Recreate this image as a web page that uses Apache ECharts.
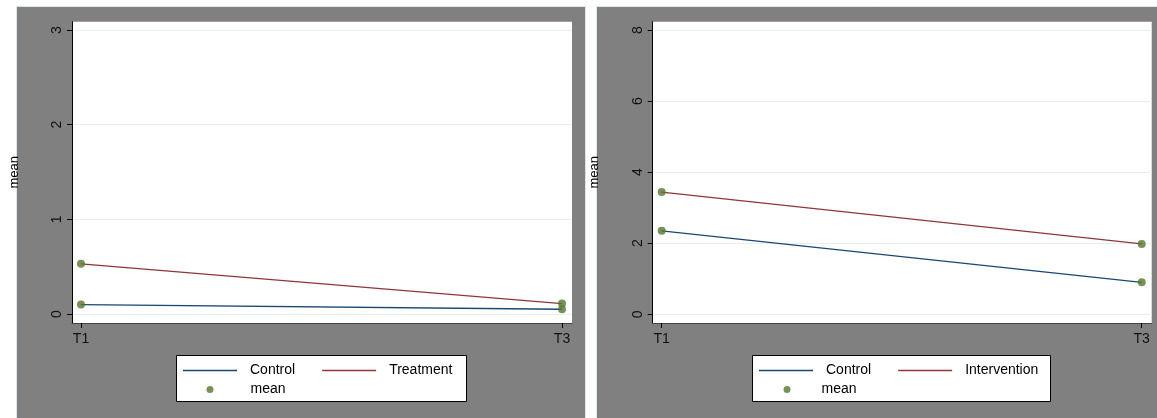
<!DOCTYPE html>
<html><head><meta charset="utf-8">
<script src="https://cdn.jsdelivr.net/npm/echarts@6/dist/echarts.min.js"></script>
<style>html,body{margin:0;padding:0;background:#fff}#c{width:1157px;height:418px}</style>
</head><body><div id="c"></div>
<script>
const categories = ['T1', 'T3'];
const leftControl = [0.10, 0.05];
const leftTreatment = [0.53, 0.11];
const rightControl = [2.35, 0.90];
const rightIntervention = [3.44, 1.98];
const leftYTicks = [0, 1, 2, 3];
const rightYTicks = [0, 2, 4, 6, 8];
const xTickIdx = [0, 1];

const FONT = 'Liberation Sans, Arial, sans-serif';
const NAVY = '#1a476f', MAROON = '#90353b', GREEN = '#55752f';
const LINE_ICON = 'path://M0 0H54V1.4H0Z';

function pts(arr) { return arr.map((v, i) => [i, v]); }
function xAxis(gi) {
  return {
    type: 'value', gridIndex: gi, min: -0.0187, max: 1.0208,
    axisLine: { show: true, onZero: false, lineStyle: { color: '#444', width: 1 } },
    axisTick: { show: true, length: 5, customValues: xTickIdx, lineStyle: { color: '#000' } },
    axisLabel: { customValues: xTickIdx, formatter: v => categories[Math.round(v)], color: '#111', fontSize: 14, fontFamily: FONT, margin: 9 },
    splitLine: { show: false }
  };
}
function yAxis(gi, min, max, ticks, gap) {
  return {
    type: 'value', gridIndex: gi, min: min, max: max,
    name: 'mean', nameLocation: 'middle', nameRotate: 90, nameGap: gap,
    nameTextStyle: { color: '#000', fontSize: 13, fontFamily: FONT },
    axisLine: { show: true, onZero: false, lineStyle: { color: '#000' } },
    axisTick: { show: true, length: 5, customValues: ticks, lineStyle: { color: '#000' } },
    axisLabel: { customValues: ticks, rotate: 90, color: '#111', fontSize: 14, fontFamily: FONT, margin: 8 },
    splitLine: { show: true, lineStyle: { color: '#e8f0f2', width: 1 } }
  };
}
function lineSeries(name, gi, arr, color) {
  return { type: 'line', name: name, xAxisIndex: gi, yAxisIndex: gi, data: pts(arr), symbol: 'none',
    lineStyle: { color: color, width: 1.3 }, itemStyle: { color: color }, z: 3 };
}
function meanSeries(gi, a, b) {
  return { type: 'scatter', name: 'mean', xAxisIndex: gi, yAxisIndex: gi, data: pts(a).concat(pts(b)),
    symbolSize: 8, itemStyle: { color: GREEN }, z: 5 };
}
const legendText = (pad) => ({ fontSize: 14, fontFamily: FONT, color: '#000', padding: [0, 0, 0, pad] });

const chart = echarts.init(document.getElementById('c'));
chart.setOption({
  animation: false,
  backgroundColor: '#fff',
  graphic: [
    { type: 'rect', z: -10, silent: true, shape: { x: 16.5, y: 6.5, width: 569, height: 420 }, style: { fill: '#808080', stroke: '#dde6ea', lineWidth: 1 } },
    { type: 'rect', z: -10, silent: true, shape: { x: 596.5, y: 6.5, width: 570, height: 420 }, style: { fill: '#808080', stroke: '#dde6ea', lineWidth: 1 } },
    { type: 'rect', z: 1, silent: true, shape: { x: 176.5, y: 355.5, width: 290, height: 46 }, style: { fill: '#fff', stroke: '#000', lineWidth: 1 } },
    { type: 'rect', z: 1, silent: true, shape: { x: 752.5, y: 355.5, width: 298, height: 46 }, style: { fill: '#fff', stroke: '#000', lineWidth: 1 } }
  ],
  grid: [
    { left: 72, top: 21.7, width: 500, height: 301.3, show: true, backgroundColor: '#fff', borderWidth: 0 },
    { left: 652.7, top: 21.7, width: 499, height: 301.3, show: true, backgroundColor: '#fff', borderWidth: 0 }
  ],
  xAxis: [xAxis(0), xAxis(1)],
  yAxis: [yAxis(0, -0.095, 3.088, leftYTicks, 51), yAxis(1, -0.245, 8.234, rightYTicks, 52)],
  legend: [
    { data: ['Control', 'Treatment'], icon: LINE_ICON, left: 183, top: 363.5, itemWidth: 54, itemHeight: 14, itemGap: 27, padding: 0, selectedMode: false, textStyle: legendText(8) },
    { data: ['mean'], left: 206.5, top: 382.5, itemWidth: 7, itemHeight: 7, icon: 'circle', padding: 0, selectedMode: false, textStyle: legendText(32) },
    { data: ['Control', 'Intervention'], icon: LINE_ICON, left: 759, top: 363.5, itemWidth: 54, itemHeight: 14, itemGap: 27, padding: 0, selectedMode: false, textStyle: legendText(8) },
    { data: ['mean'], left: 783.5, top: 382.5, itemWidth: 7, itemHeight: 7, icon: 'circle', padding: 0, selectedMode: false, textStyle: legendText(26) }
  ],
  series: [
    lineSeries('Control', 0, leftControl, NAVY),
    lineSeries('Treatment', 0, leftTreatment, MAROON),
    meanSeries(0, leftControl, leftTreatment),
    lineSeries('Control', 1, rightControl, NAVY),
    lineSeries('Intervention', 1, rightIntervention, MAROON),
    meanSeries(1, rightControl, rightIntervention)
  ]
});
</script></body></html>
